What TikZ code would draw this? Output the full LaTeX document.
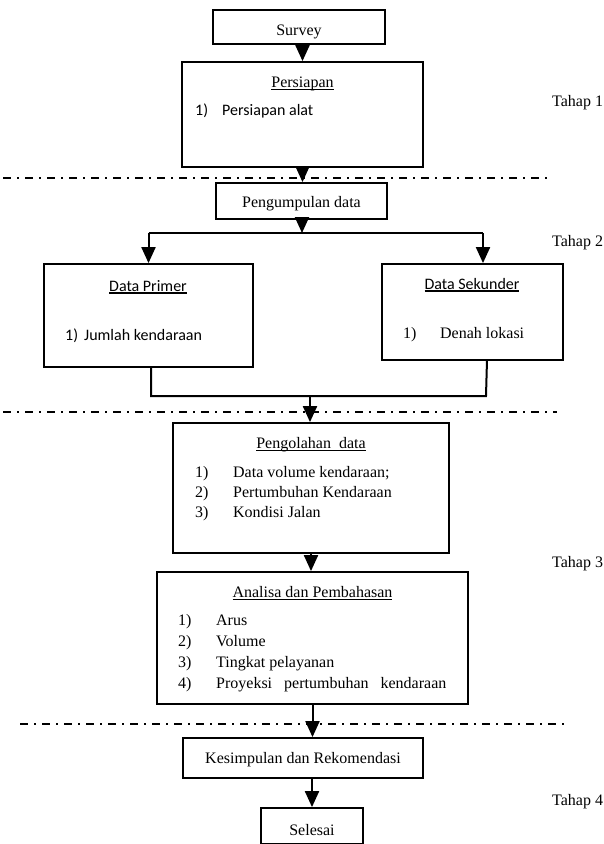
\documentclass[tikz,border=0pt]{standalone}
\usepackage{fontspec}
\setmainfont{Liberation Serif}
\newfontfamily\carlitofont{Carlito}
\usetikzlibrary{arrows.meta}
\newcommand\thickul[1]{\setbox0\hbox{#1}\rlap{\rule[-2.6pt]{\wd0}{1.6pt}}\box0}
\newcommand\thinul[1]{\setbox0\hbox{#1}\rlap{\rule[-2.4pt]{\wd0}{0.9pt}}\box0}
\begin{document}
\begin{tikzpicture}[x=1pt,y=-1pt,
  box/.style={draw,line width=1.8pt,rectangle,inner sep=0pt},
  arr/.style={line width=2pt,-{Triangle[width=14pt,length=16pt]}},
  conn/.style={line width=2pt},
  divider/.style={line width=2pt,dash pattern=on 8pt off 6pt on 2pt off 6pt},
  txt/.style={inner sep=0pt,font=\fontsize{16}{19}\selectfont},
  ctxt/.style={txt,font=\fontsize{16}{19}\selectfont\carlitofont}]
\useasboundingbox (0,0) rectangle (603,844);
% boxes
\node[box,minimum width=172pt,minimum height=34pt] (survey) at (299,27) {};
\node[box,minimum width=241pt,minimum height=105pt] (persiapan) at (302.5,114.5) {};
\node[box,minimum width=171pt,minimum height=36pt] (pengumpulan) at (301.5,201) {};
\node[box,minimum width=209pt,minimum height=103pt] (primer) at (148.5,315.5) {};
\node[box,minimum width=181pt,minimum height=96pt] (sekunder) at (472.5,312) {};
\node[box,minimum width=276pt,minimum height=130pt] (pengolahan) at (311,488) {};
\node[box,minimum width=311pt,minimum height=132pt] (analisa) at (312.5,638) {};
\node[box,minimum width=240pt,minimum height=40pt] (kesimpulan) at (303,758) {};
\node[box,minimum width=102pt,minimum height=36pt] (selesai) at (312,826) {};
% texts
\node[txt,anchor=base] (tsurvey) at (299,35) {Survey};
\node[txt,anchor=base] (tpersiapan) at (302.5,87) {\thinul{Persiapan}};
\node[ctxt,anchor=base west] (p1) at (195,115) {\makebox[27pt][l]{1)}Persiapan alat};
\node[txt,anchor=base] (tpengumpulan) at (301.5,207) {Pengumpulan data};
\node[ctxt,anchor=base] (tprimer) at (148,291) {\thickul{Data Primer}};
\node[ctxt,anchor=base west] (pr1) at (65,340) {\makebox[19pt][l]{1)}Jumlah kendaraan};
\node[ctxt,anchor=base] (tsekunder) at (472,289) {\thickul{Data Sekunder}};
\node[txt,anchor=base west] (s1) at (403,338) {\makebox[37pt][l]{1)}Denah lokasi};
\node[txt,anchor=base] (tpengolahan) at (311,448) {\thinul{Pengolahan\ \ data}};
\node[txt,anchor=base west] (o1) at (195,477) {\makebox[38pt][l]{1)}Data volume kendaraan;};
\node[txt,anchor=base west] (o2) at (195,497) {\makebox[38pt][l]{2)}Pertumbuhan Kendaraan};
\node[txt,anchor=base west] (o3) at (195,517) {\makebox[38pt][l]{3)}Kondisi Jalan};
\node[txt,anchor=base] (tanalisa) at (312.5,597) {\thinul{Analisa dan Pembahasan}};
\node[txt,anchor=base west] (a1) at (178,625) {\makebox[38pt][l]{1)}Arus};
\node[txt,anchor=base west] (a2) at (178,646) {\makebox[38pt][l]{2)}Volume};
\node[txt,anchor=base west] (a3) at (178,667) {\makebox[38pt][l]{3)}Tingkat pelayanan};
\node[txt,anchor=base west] (a4) at (178,688) {\makebox[38pt][l]{4)}Proyeksi\hspace{12pt}pertumbuhan\hspace{12pt}kendaraan};
\node[txt,anchor=base] (tkesimpulan) at (303,763) {Kesimpulan dan Rekomendasi};
\node[txt,anchor=base] (tselesai) at (312,835) {Selesai};
% stage labels
\node[txt,anchor=base west] (tahap1) at (552,106) {Tahap 1};
\node[txt,anchor=base west] (tahap2) at (552,246) {Tahap 2};
\node[txt,anchor=base west] (tahap3) at (552,567) {Tahap 3};
\node[txt,anchor=base west] (tahap4) at (552,805) {Tahap 4};
% dividers
\draw[divider] (3,178) -- (550,178);
\draw[divider] (3,412) -- (557,412);
\draw[divider] (20,724) -- (565,724);
% connectors
\coordinate (split) at (302,233);
\coordinate (pl) at (148.5,233);
\coordinate (sk) at (483,233);
\coordinate (jl) at (151,396);
\coordinate (jr) at (486,396);
\coordinate (jn) at (310,396);
\coordinate (skb) at (487,360);
\draw[arr] (persiapan.north |- survey.south) -- (persiapan.north);
\draw[arr] (persiapan.south) -- (persiapan.south |- pengumpulan.north);
\draw[arr] (split |- pengumpulan.south) -- (split);
\draw[conn] (pl) -- (sk);
\draw[arr] (pl) -- (primer.north);
\draw[arr] (sk) -- (sk |- sekunder.north);
\draw[conn] (jl |- primer.south) -- (jl) -- (jr) -- (skb);
\draw[arr] (jn) -- (jn |- pengolahan.north);
\draw[arr] (pengolahan.south) -- (pengolahan.south |- analisa.north);
\draw[arr] (analisa.south) -- (analisa.south |- kesimpulan.north);
\draw[arr] (selesai.north |- kesimpulan.south) -- (selesai.north);
\end{tikzpicture}
\end{document}
